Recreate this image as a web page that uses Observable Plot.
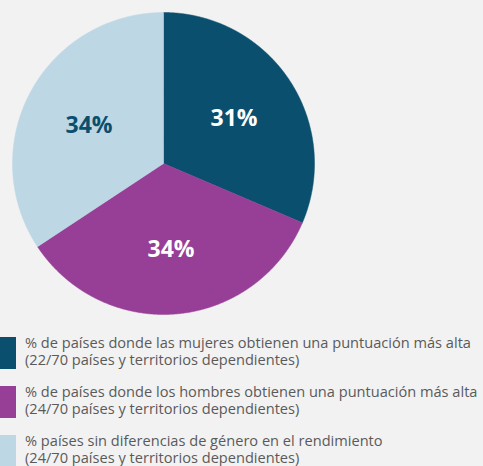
<!DOCTYPE html>
<html>
<head>
<meta charset="utf-8">
<script src="https://cdn.jsdelivr.net/npm/d3@7"></script>
<script src="https://cdn.jsdelivr.net/npm/@observablehq/plot@0.6"></script>
<style>
  html, body { margin: 0; padding: 0; background: #f2f2f2; }
  body { width: 483px; height: 466px; overflow: hidden; font-family: "Open Sans", sans-serif; }
  #legend { margin-top: 16px; }
  .item { display: flex; align-items: flex-start; height: 33px; margin-bottom: 16px; }
  .sw { width: 16px; height: 32px; flex: none; margin-top: 1px; }
  .txt { margin-left: 9px; font-size: 14.6px; line-height: 17px; color: #5a5a5a; white-space: nowrap; margin-top: -2px; }
  .txt div { height: 17px; }
</style>
</head>
<body>
<div id="chart"></div>
<div id="legend"></div>
<script>
const categories = ["mujeres", "hombres", "sin diferencias"];
const counts = [22, 24, 24];
const labels = ["31%", "34%", "34%"];
const legendLine1 = [
  "% de países donde las mujeres obtienen una puntuación más alta",
  "% de países donde los hombres obtienen una puntuación más alta",
  "% países sin diferencias de género en el rendimiento"
];
const legendLine2 = [
  "(22/70 países y territorios dependientes)",
  "(24/70 países y territorios dependientes)",
  "(24/70 países y territorios dependientes)"
];
const colors = ["#0b4f6e", "#973f96", "#bdd7e4"];

const arcs = d3.pie().sort(null)(counts);
const points = [];
const labelData = [];
arcs.forEach((a, i) => {
  const cat = categories[i];
  points.push({cat, x: 0, y: 0});
  const n = Math.max(2, Math.ceil((a.endAngle - a.startAngle) / 0.005));
  for (let k = 0; k <= n; k++) {
    const t = a.startAngle + (a.endAngle - a.startAngle) * k / n;
    points.push({cat, x: Math.sin(t), y: Math.cos(t)});
  }
  points.push({cat, x: 0, y: 0});
  const m = (a.startAngle + a.endAngle) / 2;
  labelData.push({cat, x: 0.56 * Math.sin(m), y: 0.56 * Math.cos(m), text: labels[i]});
});

const chart = Plot.plot({
  width: 483,
  height: 320,
  marginLeft: 12,
  marginRight: 169,
  marginTop: 12,
  marginBottom: 6,
  style: {background: "transparent", fontFamily: "Open Sans"},
  x: {domain: [-1, 1], axis: null},
  y: {domain: [-1, 1], axis: null},
  color: {domain: categories, range: colors},
  marks: [
    Plot.line(points, {x: "x", y: "y", z: "cat", fill: "cat", stroke: "cat", strokeWidth: 0.5, curve: "linear"}),
    Plot.text(labelData, {filter: d => d.cat !== categories[2], x: "x", y: "y", dy: 2, text: "text", fill: "white", fontSize: 23, fontWeight: "bold"}),
    Plot.text(labelData, {filter: d => d.cat === categories[2], x: "x", y: "y", dy: 2, text: "text", fill: colors[0], fontSize: 23, fontWeight: "bold"})
  ]
});
document.getElementById("chart").appendChild(chart);

const legend = document.getElementById("legend");
categories.forEach((c, i) => {
  const item = document.createElement("div");
  item.className = "item";
  const sw = document.createElement("div");
  sw.className = "sw";
  sw.style.background = colors[i];
  const txt = document.createElement("div");
  txt.className = "txt";
  const l1 = document.createElement("div");
  l1.textContent = legendLine1[i];
  const l2 = document.createElement("div");
  l2.textContent = legendLine2[i];
  txt.appendChild(l1);
  txt.appendChild(l2);
  item.appendChild(sw);
  item.appendChild(txt);
  legend.appendChild(item);
});
</script>
</body>
</html>
